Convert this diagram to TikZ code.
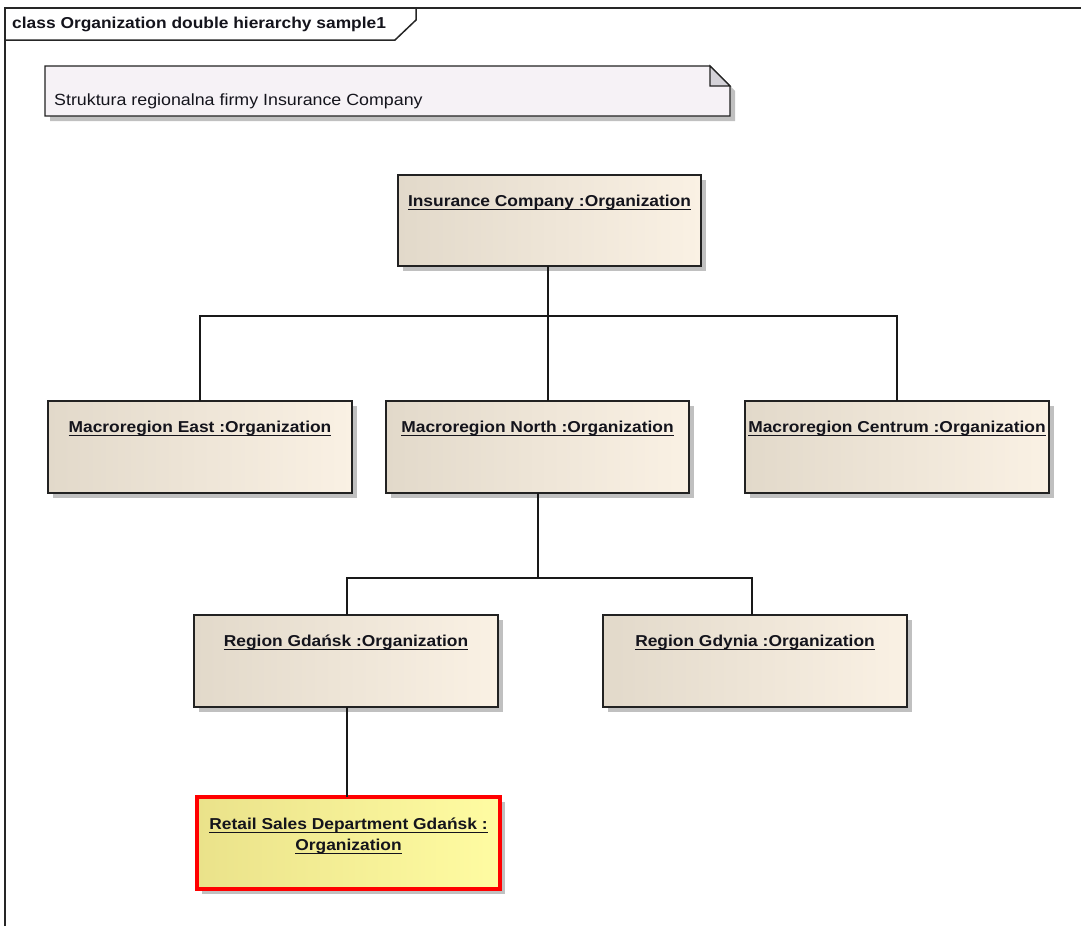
\documentclass[tikz,border=0pt]{standalone}
\usepackage{fontspec}
\setmainfont[FakeStretch=1.1]{Liberation Sans}
\usetikzlibrary{shadows}

% underline with a fixed offset below the baseline
\newcommand{\ulbox}[1]{\setbox0\hbox{#1}\rlap{\rule[-4.2pt]{\wd0}{1.3pt}}\box0}

\definecolor{orgleft}{RGB}{226,217,202}
\definecolor{orgright}{RGB}{250,241,228}
\definecolor{hileft}{RGB}{234,226,138}
\definecolor{hiright}{RGB}{255,252,162}
\definecolor{notefill}{RGB}{246,242,246}
\definecolor{foldfill}{RGB}{212,210,216}
\definecolor{edge}{RGB}{34,34,34}
\definecolor{ink}{RGB}{20,20,28}

\tikzset{
  orgbox/.style={rectangle, draw=edge, line width=1.4pt,
    left color=orgleft, middle color=orgright, right color=orgright,
    minimum width=303pt, minimum height=91pt, inner sep=0pt, outer sep=0pt,
    drop shadow={shadow xshift=4.5pt, shadow yshift=-4.5pt, fill=black!45, opacity=0.55}},
  hibox/.style={orgbox, draw=red, line width=4pt,
    left color=hileft, middle color=hiright, right color=hiright},
  orgtitle/.style={anchor=base, inner sep=0pt, text=ink,
    font=\fontsize{15.8pt}{21pt}\selectfont\bfseries},
  link/.style={draw=black!90, line width=1.4pt},
  framestroke/.style={draw=black!85, line width=1.5pt},
}

\begin{document}
\begin{tikzpicture}[x=1pt, y=-1pt]
\useasboundingbox (0,0) rectangle (1081,926);

% diagram frame with its name tab
\draw[framestroke] (5,926) -- (5,8) -- (1081,8);
\draw[framestroke] (5,40) -- (395,40) -- (416,20) -- (416,8);
\node[anchor=base west, inner sep=0pt, text=ink,
      font=\fontsize{15.8pt}{18pt}\selectfont\bfseries] (frametitle) at (12,28)
  {class Organization double hierarchy sample1};

% note
\fill[black!45, opacity=0.55] (50,71) -- (715,71) -- (735,91) -- (735,121) -- (50,121) -- cycle;
\draw[edge, line width=1.3pt, fill=notefill] (45,66) -- (710,66) -- (730,86) -- (730,116) -- (45,116) -- cycle;
\draw[edge, line width=1.1pt, fill=foldfill] (710,66) -- (710,86) -- (730,86) -- cycle;
\node[anchor=base west, inner sep=0pt, text=ink,
      font=\fontsize{16.2pt}{18pt}\selectfont] (notetext) at (54,105)
  {Struktura regionalna firmy Insurance Company};

% organization instances
\node[orgbox] (ic) at (549.5,220.5) {};
\node[orgbox, minimum width=304pt, minimum height=92pt] (east) at (200,447) {};
\node[orgbox, minimum height=92pt] (north) at (537.5,447) {};
\node[orgbox, minimum width=304pt, minimum height=92pt] (centrum) at (897,447) {};
\node[orgbox, minimum width=304pt, minimum height=92pt] (gdansk) at (346,661) {};
\node[orgbox, minimum width=304pt, minimum height=92pt] (gdynia) at (755,661) {};
\node[hibox, minimum width=303pt, minimum height=92pt] (retail) at (348.5,843) {};

\node[orgtitle] (ictitle) at ([yshift=-31pt]ic.north) {\ulbox{Insurance Company :Organization}};
\node[orgtitle] (easttitle) at ([yshift=-31pt]east.north) {\ulbox{Macroregion East :Organization}};
\node[orgtitle] (northtitle) at ([yshift=-31pt]north.north) {\ulbox{Macroregion North :Organization}};
\node[orgtitle] (centrumtitle) at ([yshift=-31pt]centrum.north) {\ulbox{Macroregion Centrum :Organization}};
\node[orgtitle] (gdansktitle) at ([yshift=-31pt]gdansk.north) {\ulbox{Region Gdańsk :Organization}};
\node[orgtitle] (gdyniatitle) at ([yshift=-31pt]gdynia.north) {\ulbox{Region Gdynia :Organization}};
% the base anchor of a two-line node sits on its last line
\node[orgtitle, align=center] (retailtitle) at ([yshift=-53pt]retail.north)
  {\ulbox{Retail Sales Department Gdańsk :}\\\ulbox{Organization}};

% hierarchy links
\coordinate (busA) at (0,316);
\coordinate (busB) at (0,578);
\draw[link] ([xshift=-1.5pt]ic.south) -- ([xshift=-1.5pt]ic.south |- north.north);
\draw[link] (east.north) -- (east.north |- busA) -- (centrum.north |- busA) -- (centrum.north);
\draw[link] ([xshift=0.5pt]north.south) -- ([xshift=0.5pt]north.south |- busB);
\draw[link] ([xshift=1pt]gdansk.north) -- ([xshift=1pt]gdansk.north |- busB)
  -- ([xshift=-3pt]gdynia.north |- busB) -- ([xshift=-3pt]gdynia.north);
\draw[link] ([xshift=1pt]gdansk.south) -- ([xshift=1pt]gdansk.south |- retail.north);
\end{tikzpicture}
\end{document}
